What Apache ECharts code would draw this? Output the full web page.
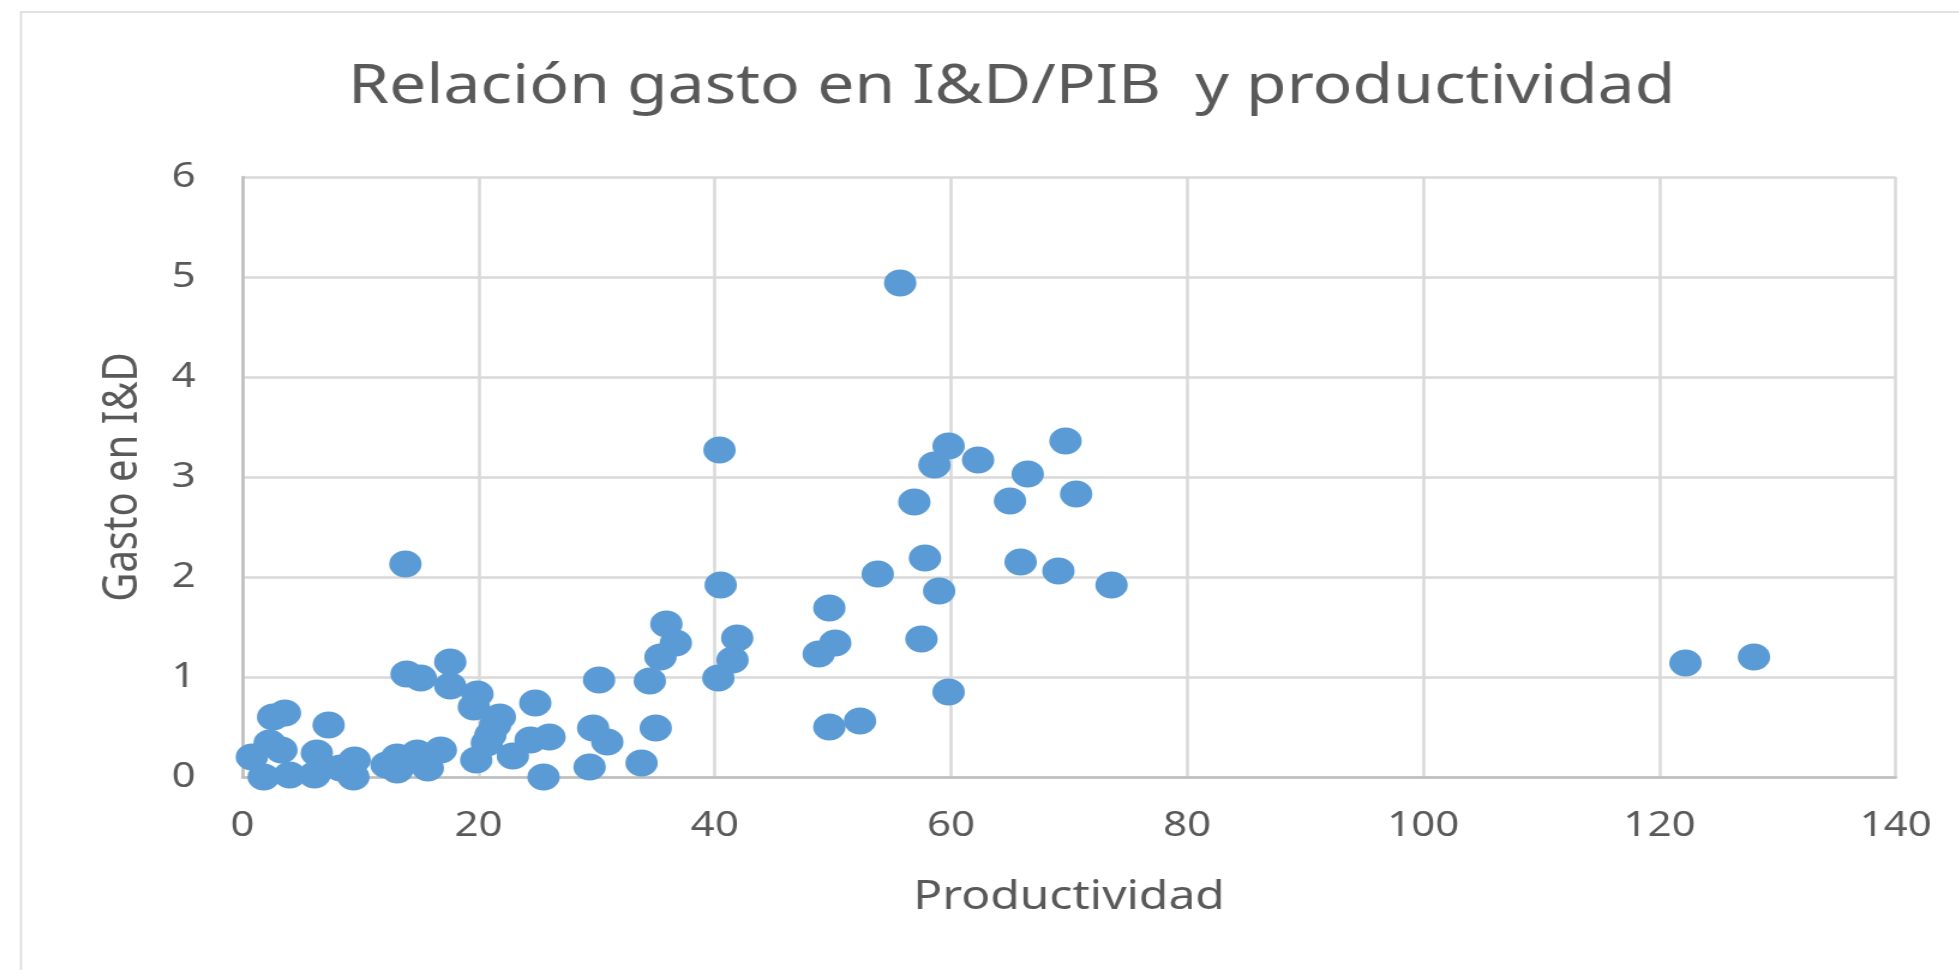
<!DOCTYPE html>
<html>
<head>
<meta charset="utf-8">
<script src="https://cdn.jsdelivr.net/npm/echarts@6/dist/echarts.min.js"></script>
<style>
  html, body { margin: 0; padding: 0; background: #fff; overflow: hidden; }
  /* the source picture is a chart stretched sideways, so draw narrower and stretch */
  #chart { width: 1632.5px; height: 970px; transform: scaleX(1.2); transform-origin: 0 0; }
</style>
</head>
<body>
<div id="chart"></div>
<script>
const TITLE = 'Relación gasto en I&D/PIB  y productividad'
const X_NAME = 'Productividad'
const Y_NAME = 'Gasto en I&D'

// productividad (x)
const productividad = [
  0.8, 1.8, 2.3, 2.6, 3.3, 3.6, 4.0, 6.1, 6.3, 7.3,
  8.3, 9.4, 9.5, 12.2, 13.1, 13.1, 13.8, 13.9, 14.8, 15.1,
  15.7, 16.8, 17.6, 17.6, 19.6, 19.8, 19.9, 20.7, 21.0, 21.4,
  21.8, 22.9, 24.4, 24.8, 25.5, 26.0, 29.4, 29.7, 30.2, 30.9,
  33.8, 34.5, 35.0, 35.4, 35.9, 36.7, 40.3, 40.4, 40.5, 41.5,
  41.9, 48.8, 49.7, 49.7, 50.2, 52.3, 53.8, 55.7, 56.9, 57.5,
  57.8, 58.6, 59.0, 59.8, 59.8, 62.3, 65.0, 65.9, 66.5, 69.1,
  69.7, 70.6, 73.6, 122.2, 128.0
]
// gasto en I&D (y)
const gastoID = [
  0.20, 0.00, 0.34, 0.60, 0.27, 0.64, 0.02, 0.02, 0.24, 0.52,
  0.09, 0.00, 0.17, 0.12, 0.20, 0.07, 2.13, 1.03, 0.24, 0.99,
  0.09, 0.27, 1.15, 0.91, 0.70, 0.17, 0.83, 0.34, 0.42, 0.52,
  0.60, 0.21, 0.37, 0.74, 0.00, 0.40, 0.10, 0.49, 0.97, 0.35,
  0.14, 0.96, 0.49, 1.20, 1.53, 1.34, 0.99, 3.27, 1.92, 1.17,
  1.39, 1.23, 0.50, 1.69, 1.34, 0.56, 2.03, 4.94, 2.75, 1.38,
  2.19, 3.12, 1.86, 0.85, 3.31, 3.17, 2.76, 2.15, 3.03, 2.06,
  3.36, 2.83, 1.92, 1.14, 1.20
]

const TEXT = '#595959'
const FONT = 'Noto Sans'

const chart = echarts.init(document.getElementById('chart'), null, { renderer: 'canvas' })

chart.setOption({
  backgroundColor: '#fff',
  animation: false,
  textStyle: { fontFamily: FONT },
  graphic: [
    {
      type: 'rect',
      shape: { x: 17.5, y: 12, width: 2000, height: 1200 },
      style: { fill: 'none', stroke: '#d9d9d9', lineWidth: 1.5 },
      silent: true,
    },
  ],
  title: {
    text: TITLE,
    left: 838,
    textAlign: 'center',
    top: 55,
    textStyle: { color: TEXT, fontSize: 55, fontWeight: 'normal', fontFamily: FONT },
  },
  grid: { left: 202, right: 53.3, top: 177, bottom: 193, containLabel: false },
  xAxis: {
    type: 'value',
    min: 0,
    max: 140,
    interval: 20,
    name: X_NAME,
    nameLocation: 'middle',
    nameGap: 101,
    nameTextStyle: { color: TEXT, fontSize: 40, fontFamily: FONT },
    axisLine: { show: true, onZero: false, lineStyle: { color: '#bfbfbf', width: 2.5 } },
    axisTick: { show: false },
    axisLabel: { color: TEXT, fontSize: 35, margin: 32, fontFamily: FONT },
    splitLine: { show: true, lineStyle: { color: '#d9d9d9', width: 2.5 } },
  },
  yAxis: {
    type: 'value',
    min: 0,
    max: 6,
    interval: 1,
    name: Y_NAME,
    nameLocation: 'middle',
    nameGap: 79,
    nameTextStyle: { color: TEXT, fontSize: 40, fontFamily: FONT },
    axisLine: { show: true, onZero: false, lineStyle: { color: '#bfbfbf', width: 2.5 } },
    axisTick: { show: false },
    axisLabel: { color: TEXT, fontSize: 35, margin: 39, fontFamily: FONT },
    splitLine: { show: true, lineStyle: { color: '#d9d9d9', width: 2.5 } },
  },
  series: [
    {
      type: 'scatter',
      symbol: 'circle',
      symbolSize: 27,
      itemStyle: { color: '#5b9bd5', opacity: 1 },
      data: productividad.map((x, i) => [x, gastoID[i]]),
    },
  ],
})
</script>
</body>
</html>
